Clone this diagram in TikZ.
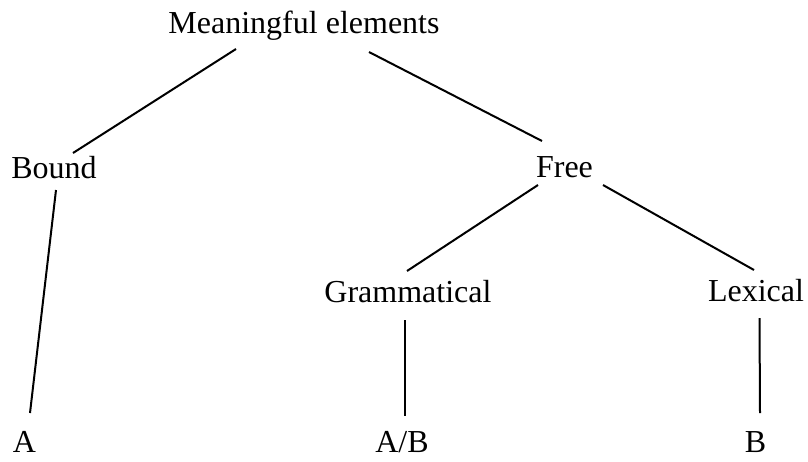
\documentclass[tikz,border=0pt]{standalone}
\usepackage{fontspec}
\setmainfont{Liberation Serif}
\begin{document}
\begin{tikzpicture}[x=1pt,y=-1pt,
  lbl/.style={anchor=base,inner sep=0pt,font=\fontsize{32}{36}\selectfont},
  edge/.style={line width=2pt}]
\useasboundingbox (0,0) rectangle (808,461);
\node[lbl] (M) at (304,33) {Meaningful elements};
\node[lbl] (Bnd) at (54,178) {Bound};
\node[lbl] (Fr) at (564.5,177) {Free};
\node[lbl] (Gr) at (408,302) {Grammatical};
\node[lbl] (Lx) at (756,301) {Lexical};
\node[lbl] (A) at (24.5,452) {A};
\node[lbl] (AB) at (402,452) {A/B};
\node[lbl] (Bb) at (755.5,452) {B};
\draw[edge] ([shift={(-68,16)}]M.base) -- ([shift={(19,-25)}]Bnd.base);
\draw[edge] ([shift={(65,19)}]M.base) -- ([shift={(-22.5,-36)}]Fr.base);
\draw[edge] ([shift={(2,12)}]Bnd.base) -- ([shift={(5.5,-39)}]A.base);
\draw[edge] ([shift={(-26.5,8)}]Fr.base) -- ([shift={(-1,-31)}]Gr.base);
\draw[edge] ([shift={(38.5,8)}]Fr.base) -- ([shift={(-2,-31)}]Lx.base);
\draw[edge] ([shift={(-3,18)}]Gr.base) -- ([shift={(3,-36)}]AB.base);
\draw[edge] ([shift={(3.5,17)}]Lx.base) -- ([shift={(4.5,-39)}]Bb.base);
\end{tikzpicture}
\end{document}
